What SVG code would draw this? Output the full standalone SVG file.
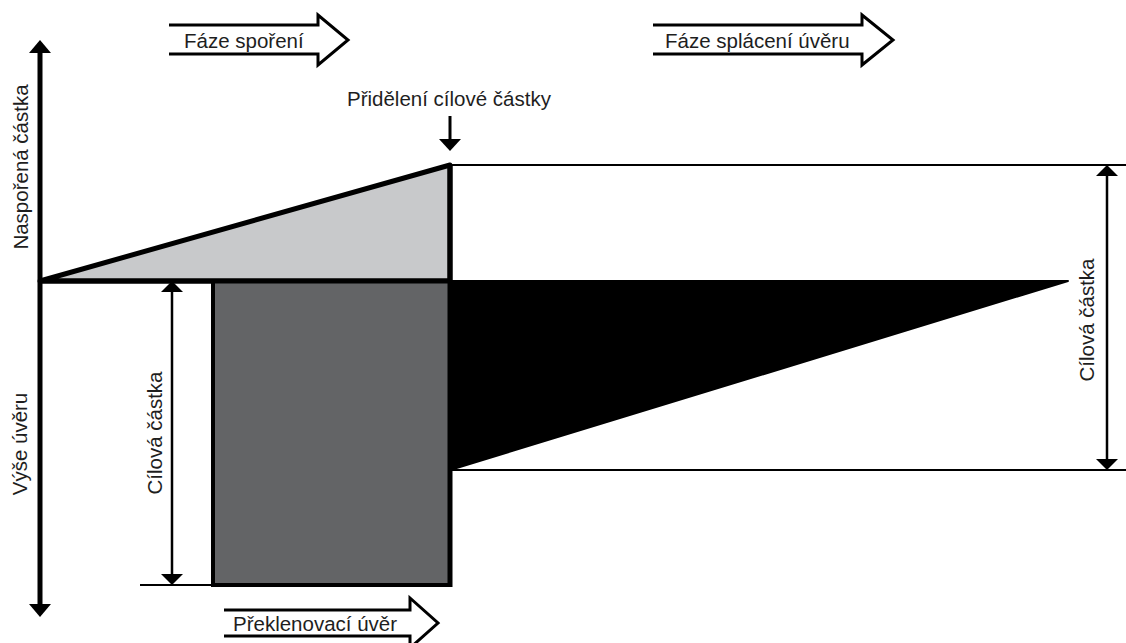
<svg xmlns="http://www.w3.org/2000/svg" width="1126" height="643" viewBox="0 0 1126 643">
<style>
text{font-family:"Liberation Sans",Arial,sans-serif;font-size:20.5px;fill:#1e1e1e}
.thick{stroke:#000;stroke-width:5;fill:none}
.thin{stroke:#000;stroke-width:2;fill:none}
.dim{stroke:#000;stroke-width:2.5;fill:none}
.head{fill:#000;stroke:none}
.bigarrow{stroke:#000;stroke-width:3;fill:none;stroke-linejoin:miter}
</style>
<rect width="1126" height="643" fill="#fff"/>
<g id="shapes">
<polygon id="saving" points="40,281 450,165 450,281" fill="#c8c9cb" stroke="#000" stroke-width="5" stroke-linejoin="round"/>
<rect id="bridge-loan" x="213" y="281" width="237" height="304" fill="#636466" stroke="#000" stroke-width="4"/>
<polygon id="repayment" points="450,281 1068,281 450,470" fill="#000" stroke="#000" stroke-width="2" stroke-linejoin="round"/>
</g>
<g id="connectors">
<g id="axis-vertical">
<line class="thick" x1="40" y1="50" x2="40" y2="607"/>
<polygon class="head" points="40,40 51,53 29,53"/>
<polygon class="head" points="40,617 51,604 29,604"/>
</g>
<line class="thick" x1="40" y1="281" x2="450" y2="281"/>
<line class="thick" x1="450" y1="165" x2="450" y2="587"/>
<line class="thin" x1="450" y1="165" x2="1126" y2="165"/>
<line class="thin" x1="450" y1="470" x2="1126" y2="470"/>
<line class="thin" x1="140" y1="585" x2="213" y2="585"/>
<g id="dim-right">
<line class="dim" x1="1107" y1="170" x2="1107" y2="465"/>
<polygon class="head" points="1107,165 1118,176 1096,176"/>
<polygon class="head" points="1107,470 1118,459 1096,459"/>
</g>
<g id="dim-left">
<line class="dim" x1="172" y1="286" x2="172" y2="580"/>
<polygon class="head" points="172,281 183,292 161,292"/>
<polygon class="head" points="172,585 183,574 161,574"/>
</g>
<g id="allot-arrow">
<line stroke="#000" stroke-width="3" x1="450" y1="116" x2="450" y2="142"/>
<polygon class="head" points="450,151 461,139 439,139"/>
</g>
<path class="bigarrow" d="M169,25 H318 V15 L348,40 L318,65 V54 H169"/>
<path class="bigarrow" d="M653,25 H862 V15 L893,40 L862,65 V54 H653"/>
<path class="bigarrow" d="M224,610 H410 V598 L438,623 L410,648 V636 H224"/>
</g>
<g id="labels">
<text x="184" y="48">Fáze spoření</text>
<text x="665" y="48">Fáze splácení úvěru</text>
<text x="347" y="106">Přidělení cílové částky</text>
<text x="233" y="631">Překlenovací úvěr</text>
<text transform="translate(28,167) rotate(-90)" text-anchor="middle">Naspořená částka</text>
<text transform="translate(27,444) rotate(-90)" text-anchor="middle">Výše úvěru</text>
<text transform="translate(162,433) rotate(-90)" text-anchor="middle">Cílová částka</text>
<text transform="translate(1094,320) rotate(-90)" text-anchor="middle">Cílová částka</text>
</g>
</svg>
